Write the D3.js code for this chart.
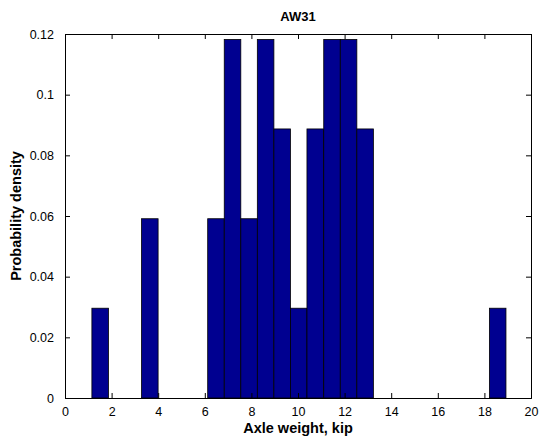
<!DOCTYPE html>
<html>
<head>
<meta charset="utf-8">
<script src="https://cdn.jsdelivr.net/npm/d3@7"></script>
<style>
  html, body { margin: 0; padding: 0; background: #fff; }
  svg { display: block; font-family: "Liberation Sans", Arial, sans-serif; }
</style>
</head>
<body>
<svg id="chart" width="540" height="442"></svg>
<script>
// Histogram of axle weights (25 equal bins between the min and max sample)
const binCenters = [1.51, 2.22, 2.93, 3.64, 4.35, 5.06, 5.77, 6.48, 7.19, 7.90,
                    8.61, 9.32, 10.03, 10.74, 11.46, 12.17, 12.88, 13.59, 14.30,
                    15.01, 15.72, 16.43, 17.14, 17.86, 18.57];
const density = [0.0296, 0, 0, 0.0591, 0, 0, 0, 0.0591, 0.1182, 0.0591,
                 0.1182, 0.0887, 0.0296, 0.0887, 0.1182, 0.1182, 0.0887, 0, 0,
                 0, 0, 0, 0, 0, 0.0296];
const binWidth = 0.711;
const xTicks = [0, 2, 4, 6, 8, 10, 12, 14, 16, 18, 20];
const yTicks = [0, 0.02, 0.04, 0.06, 0.08, 0.1, 0.12];
const title = "AW31";
const xLabel = "Axle weight, kip";
const yLabel = "Probability density";

const svg = d3.select("#chart");
const m = { left: 65, right: 531, top: 34, bottom: 398 };

const x = d3.scaleLinear().domain([0, 20]).range([m.left, m.right]);
const y = d3.scaleLinear().domain([0, 0.12]).range([m.bottom, m.top]);

const bins = binCenters.map((c, i) => ({ x0: c - binWidth / 2, x1: c + binWidth / 2, v: density[i] }));

// Bars
svg.append("g")
  .selectAll("rect")
  .data(bins.filter(d => d.v > 0))
  .join("rect")
  .attr("x", d => x(d.x0))
  .attr("y", d => y(d.v))
  .attr("width", d => x(d.x1) - x(d.x0))
  .attr("height", d => y(0) - y(d.v))
  .attr("fill", "#000090")
  .attr("stroke", "#000")
  .attr("stroke-width", 0.8);

// Axes with inward ticks on all four sides
const tickLen = 5;
const fmtY = d => d === 0 ? "0" : String(+d.toFixed(2));

const axB = svg.append("g").attr("transform", `translate(0,${m.bottom})`)
  .call(d3.axisBottom(x).tickValues(xTicks).tickSize(-tickLen).tickPadding(9).tickFormat(d3.format("d")));
const axT = svg.append("g").attr("transform", `translate(0,${m.top})`)
  .call(d3.axisTop(x).tickValues(xTicks).tickSize(-tickLen).tickFormat(""));
const axL = svg.append("g").attr("transform", `translate(${m.left},0)`)
  .call(d3.axisLeft(y).tickValues(yTicks).tickSize(-tickLen).tickPadding(11).tickFormat(fmtY));
const axR = svg.append("g").attr("transform", `translate(${m.right},0)`)
  .call(d3.axisRight(y).tickValues(yTicks).tickSize(-tickLen).tickFormat(""));

[axB, axT, axL, axR].forEach(g => {
  g.select(".domain").attr("stroke", "#000").attr("stroke-width", 1);
  g.selectAll(".tick line").attr("stroke", "#000").attr("stroke-width", 1);
  g.selectAll(".tick text")
    .attr("fill", "#000")
    .style("font-family", "'Liberation Sans', Arial, sans-serif")
    .style("font-size", "12.5px");
});

// Title and axis labels
svg.append("text")
  .attr("x", (m.left + m.right) / 2).attr("y", 21)
  .attr("text-anchor", "middle")
  .style("font-size", "13px").style("font-weight", "bold")
  .text(title);

svg.append("text")
  .attr("x", (m.left + m.right) / 2).attr("y", 433)
  .attr("text-anchor", "middle")
  .style("font-size", "14.5px").style("font-weight", "bold")
  .text(xLabel);

svg.append("text")
  .attr("transform", `translate(21,${(m.top + m.bottom) / 2}) rotate(-90)`)
  .attr("text-anchor", "middle")
  .style("font-size", "14.5px").style("font-weight", "bold")
  .text(yLabel);
</script>
</body>
</html>
